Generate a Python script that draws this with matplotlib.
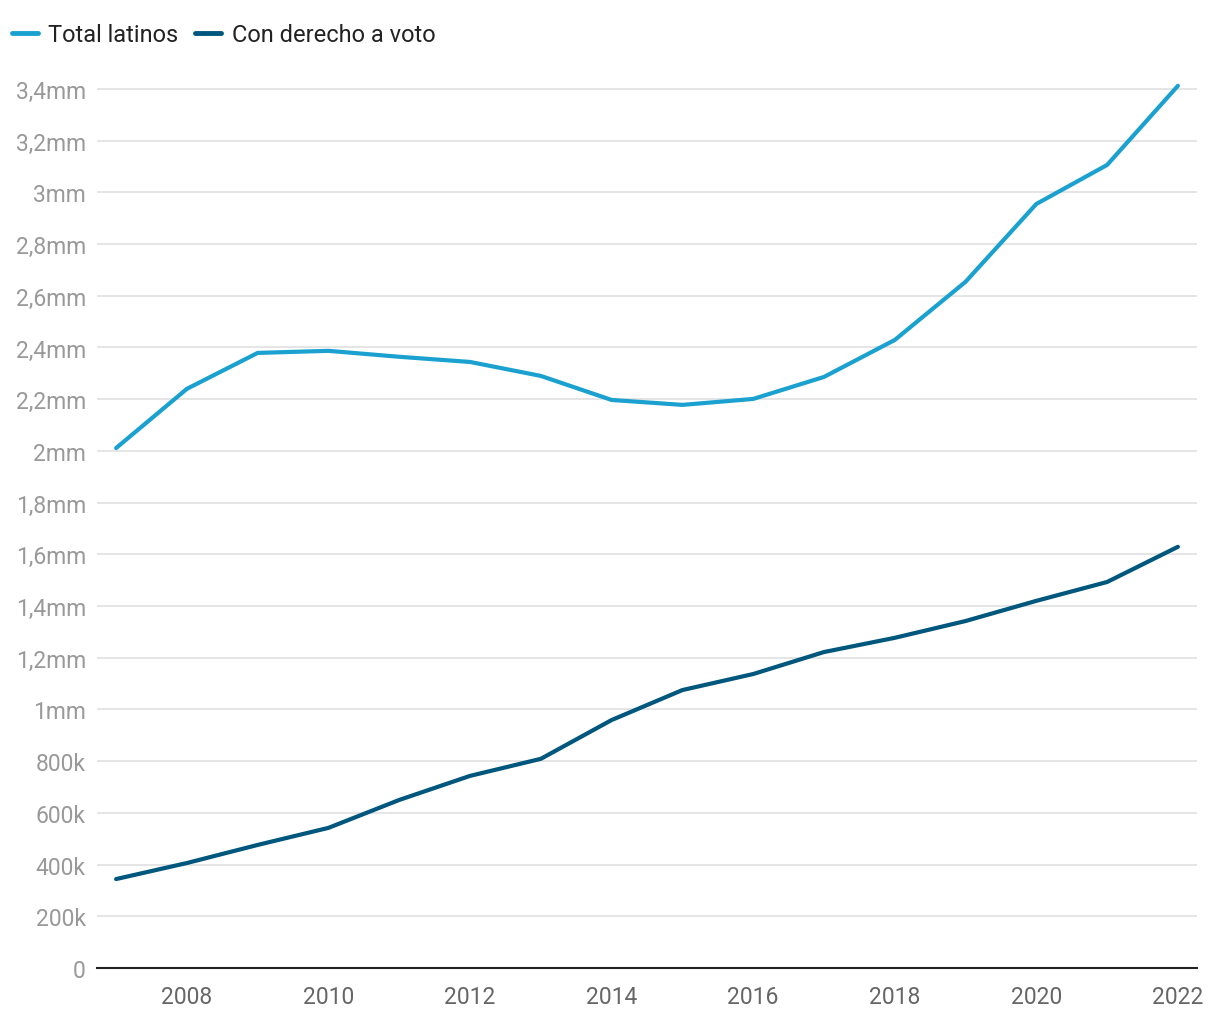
import matplotlib
matplotlib.use("Agg")
import matplotlib.pyplot as plt
from matplotlib.lines import Line2D

plt.rcParams['font.family'] = ['Roboto', 'DejaVu Sans']

years = [2007, 2008, 2009, 2010, 2011, 2012, 2013, 2014, 2015, 2016, 2017, 2018, 2019, 2020, 2021, 2022]
total_latinos = [2011, 2240, 2379, 2387, 2364, 2344, 2290, 2197, 2178, 2201, 2286, 2429, 2654, 2955, 3106, 3412]
con_derecho = [344, 406, 476, 542, 650, 743, 809, 959, 1075, 1137, 1222, 1277, 1342, 1420, 1493, 1629]
series_names = ["Total latinos", "Con derecho a voto"]
colores = ["#1aa1cf", "#00577d"]

ytick_vals = [0, 200, 400, 600, 800, 1000, 1200, 1400, 1600, 1800, 2000, 2200, 2400, 2600, 2800, 3000, 3200, 3400]
ytick_labels = ["0", "200k", "400k", "600k", "800k", "1mm", "1,2mm", "1,4mm", "1,6mm", "1,8mm",
                "2mm", "2,2mm", "2,4mm", "2,6mm", "2,8mm", "3mm", "3,2mm", "3,4mm"]
xtick_vals = [2008, 2010, 2012, 2014, 2016, 2018, 2020, 2022]

W, H = 1220, 1020
fig = plt.figure(figsize=(W / 100, H / 100), dpi=100)
ax = fig.add_axes([97 / W, 51 / H, (1197 - 97) / W, (969 - 77) / H])

ax.plot(years, total_latinos, color=colores[0], lw=3, solid_capstyle='round', zorder=3)
ax.plot(years, con_derecho, color=colores[1], lw=3, solid_capstyle='round', zorder=3)

ax.set_xlim(2006.73, 2022.27)
ax.set_ylim(0, 3450)
ax.set_yticks(ytick_vals)
ax.set_yticklabels(ytick_labels)
ax.set_xticks(xtick_vals)
ax.set_xticklabels([str(x) for x in xtick_vals])

ax.grid(axis='y', color='#e0e0e0', lw=1.2)
ax.set_axisbelow(True)
for s in ['top', 'right', 'left']:
    ax.spines[s].set_visible(False)
ax.spines['bottom'].set_color('#222222')
ax.spines['bottom'].set_linewidth(1.5)
ax.spines['bottom'].set_zorder(4)
ax.tick_params(axis='y', length=0, pad=8, labelsize=16.5, labelcolor='#999999')
ax.tick_params(axis='x', length=0, pad=12, labelsize=16.5, labelcolor='#666666')

handles = [Line2D([0], [0], color=c, lw=3.5, solid_capstyle='round') for c in colores]
fig.legend(handles, series_names, loc='upper left', bbox_to_anchor=(-0.002, 0.99), ncol=2, frameon=False,
           fontsize=17, handlelength=1.1, handletextpad=0.45, columnspacing=0.7, labelcolor='#222222',
           borderaxespad=0.2)

fig.savefig("out.png", dpi=100)
